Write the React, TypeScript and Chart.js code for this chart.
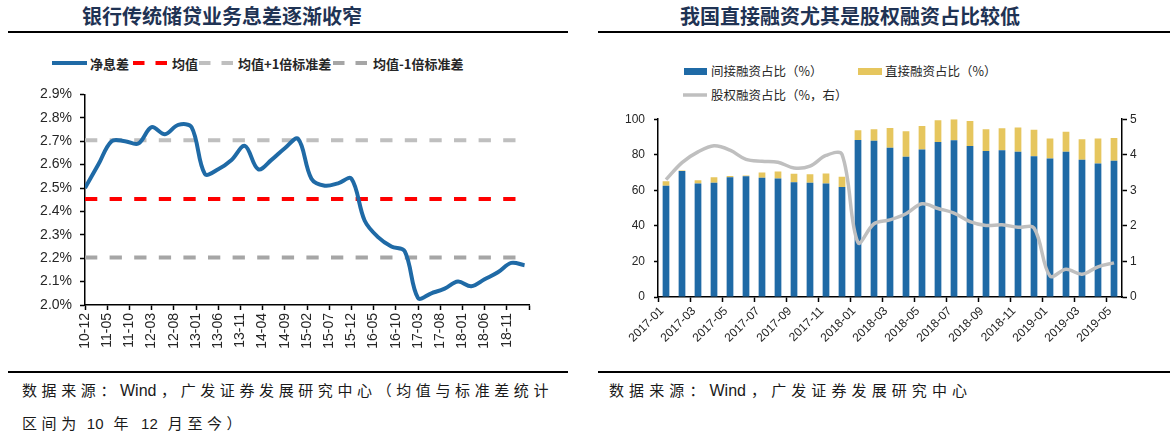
import React, { useEffect, useRef } from 'react';
import { Chart, registerables } from 'chart.js';

Chart.register(...registerables);

// ---------------- Left chart data: net interest margin ----------------
const nimPeriods = [
  '2010-12',
  '2011-03', '2011-06', '2011-09', '2011-12',
  '2012-03', '2012-06', '2012-09', '2012-12',
  '2013-03', '2013-06', '2013-09', '2013-12',
  '2014-03', '2014-06', '2014-09', '2014-12',
  '2015-03', '2015-06', '2015-09', '2015-12',
  '2016-03', '2016-06', '2016-09', '2016-12',
  '2017-03', '2017-06', '2017-09', '2017-12',
  '2018-03', '2018-06', '2018-09', '2018-12',
  '2019-03',
];
const nimValues = [
  2.50,
  2.60, 2.70, 2.70, 2.69,
  2.76, 2.73, 2.77, 2.76,
  2.56, 2.58, 2.62, 2.68,
  2.58, 2.62, 2.67, 2.71,
  2.54, 2.51, 2.52, 2.54,
  2.36, 2.29, 2.25, 2.23,
  2.03, 2.05, 2.07, 2.10,
  2.08, 2.11, 2.14, 2.18,
  2.17,
];
const nimMean = 2.453;
const nimPlusOneStd = 2.704;
const nimMinusOneStd = 2.203;
const nimAxisLabels = [
  '10-12', '11-05', '11-10', '12-03', '12-08', '13-01', '13-06', '13-11',
  '14-04', '14-09', '15-02', '15-07', '15-12', '16-05', '16-10', '17-03',
  '17-08', '18-01', '18-06', '18-11', '',
];
const nimAxisStartPeriod = '2010-12';
const nimAxisMonths = 100;
const nimAxisStepMonths = 5;
const nimYMin = 2.0;
const nimYMax = 2.9;
const nimYStep = 0.1;

// ---------------- Right chart data: financing structure ----------------
const finMonths = [
  '2017-01', '2017-02', '2017-03', '2017-04', '2017-05', '2017-06',
  '2017-07', '2017-08', '2017-09', '2017-10', '2017-11', '2017-12',
  '2018-01', '2018-02', '2018-03', '2018-04', '2018-05', '2018-06',
  '2018-07', '2018-08', '2018-09', '2018-10', '2018-11', '2018-12',
  '2019-01', '2019-02', '2019-03', '2019-04', '2019-05',
];
const indirectShare = [
  62.6, 70.8, 63.8, 64.2, 67.4, 67.9,
  67.0, 66.6, 64.5, 64.2, 63.8, 61.9,
  88.3, 87.9, 84.0, 78.9, 83.0, 87.2,
  88.1, 84.9, 82.1, 82.5, 81.7, 79.2,
  77.9, 81.7, 77.2, 75.1, 76.6,
];
const directShare = [
  2.5, 0.4, 1.9, 3.2, 0.7, 0.4,
  3.0, 4.0, 4.8, 4.9, 5.6, 5.8,
  5.5, 6.4, 11.1, 14.3, 13.2, 12.2,
  11.9, 14.1, 12.2, 12.4, 13.6, 14.8,
  11.3, 11.3, 11.5, 14.0, 12.8,
];
const equityShare = [
  3.30, 3.78, 4.08, 4.25, 4.13, 3.87,
  3.82, 3.79, 3.63, 3.68, 3.98, 4.01,
  1.53, 2.06, 2.17, 2.34, 2.62, 2.49,
  2.36, 2.12, 2.01, 2.03, 1.96, 1.94,
  0.59, 0.78, 0.64, 0.85, 0.96,
];

// ---------------- Styles ----------------
const BLUE = '#1f6aa6';
const YELLOW = '#e6c65e';
const RED = '#ff0000';
const GRAY_LIGHT = '#bfbfbf';
const GRAY_DARK = '#a6a6a6';
const LINE_GRAY = '#bfbfbf';
const TITLE_COLOR = '#1f3354';
const TEXT_COLOR = '#262626';
const NOTE_COLOR = '#1a1a1a';
const LATIN = '"Liberation Sans", Arial, "Noto Sans CJK SC", sans-serif';
const CJK = '"Noto Sans CJK SC", "Liberation Sans", sans-serif';

function monthIndex(period: string, base: string): number {
  const [y, m] = period.split('-').map(Number);
  const [by, bm] = base.split('-').map(Number);
  return (y - by) * 12 + (m - bm);
}

const axisGrid = (tickLength: number) => ({
  display: true,
  drawOnChartArea: false,
  drawTicks: true,
  tickLength,
  tickColor: '#000',
  tickWidth: 1.5,
});
const axisBorder = { display: true, color: '#000', width: 1.5 };

function NimChart() {
  const ref = useRef<HTMLCanvasElement | null>(null);
  useEffect(() => {
    if (!ref.current) return;
    const xs = nimPeriods.map((p) => monthIndex(p, nimAxisStartPeriod));
    const x0 = xs[0];
    const x1 = xs[xs.length - 1];
    const flat = (v: number) => [{ x: x0, y: v }, { x: x1, y: v }];
    const chart = new Chart(ref.current, {
      type: 'line',
      data: {
        datasets: [
          {
            label: '净息差',
            data: nimValues.map((v, i) => ({ x: xs[i], y: v })),
            borderColor: BLUE,
            borderWidth: 4,
            tension: 0.35,
            pointRadius: 0,
            fill: false,
          },
          {
            label: '均值',
            data: flat(nimMean),
            borderColor: RED,
            borderWidth: 4,
            borderDash: [12.3, 12.3],
            pointRadius: 0,
          },
          {
            label: '均值+1倍标准差',
            data: flat(nimPlusOneStd),
            borderColor: GRAY_LIGHT,
            borderWidth: 4,
            borderDash: [12.3, 12.3],
            pointRadius: 0,
          },
          {
            label: '均值-1倍标准差',
            data: flat(nimMinusOneStd),
            borderColor: GRAY_DARK,
            borderWidth: 4,
            borderDash: [12.3, 12.3],
            pointRadius: 0,
          },
        ],
      },
      options: {
        animation: false,
        responsive: false,
        maintainAspectRatio: false,
        layout: { padding: { top: 8, right: 31, left: 0, bottom: 0 } },
        plugins: { legend: { display: false }, tooltip: { enabled: false } },
        scales: {
          x: {
            type: 'linear',
            min: 0,
            max: nimAxisMonths,
            grid: axisGrid(5),
            border: axisBorder,
            ticks: {
              stepSize: nimAxisStepMonths,
              autoSkip: false,
              minRotation: 90,
              maxRotation: 90,
              padding: 3,
              color: TEXT_COLOR,
              font: { family: LATIN, size: 14 },
              callback: (v: any) => nimAxisLabels[Math.round(Number(v) / nimAxisStepMonths)] ?? '',
            },
            afterFit: (s: any) => { s.height = 60; },
          },
          y: {
            min: nimYMin,
            max: nimYMax,
            grid: axisGrid(5),
            border: axisBorder,
            ticks: {
              stepSize: nimYStep,
              padding: 8,
              color: TEXT_COLOR,
              font: { family: LATIN, size: 14 },
              callback: (v: any) => Number(v).toFixed(1) + '%',
            },
            afterFit: (s: any) => { s.width = 85; },
          },
        },
      } as any,
    });
    return () => chart.destroy();
  }, []);
  return (
    <canvas
      ref={ref}
      width={560}
      height={287}
      style={{ position: 'absolute', left: 0, top: 78, width: 560, height: 287, display: 'block' }}
    />
  );
}

function FinChart() {
  const ref = useRef<HTMLCanvasElement | null>(null);
  useEffect(() => {
    if (!ref.current) return;
    const chart = new Chart(ref.current, {
      type: 'bar',
      data: {
        labels: finMonths,
        datasets: [
          {
            type: 'line',
            label: '股权融资占比（%，右）',
            data: equityShare,
            yAxisID: 'y1',
            borderColor: LINE_GRAY,
            borderWidth: 3.5,
            tension: 0.35,
            pointRadius: 0,
            order: 1,
          },
          {
            type: 'bar',
            label: '间接融资占比（%）',
            data: indirectShare,
            yAxisID: 'y',
            backgroundColor: BLUE,
            stack: 's',
            order: 2,
            categoryPercentage: 1,
            barPercentage: 0.42,
          },
          {
            type: 'bar',
            label: '直接融资占比（%）',
            data: directShare,
            yAxisID: 'y',
            backgroundColor: YELLOW,
            stack: 's',
            order: 3,
            categoryPercentage: 1,
            barPercentage: 0.42,
          },
        ],
      },
      options: {
        animation: false,
        responsive: false,
        maintainAspectRatio: false,
        layout: { padding: { top: 10, right: 0, left: 0, bottom: 0 } },
        plugins: { legend: { display: false }, tooltip: { enabled: false } },
        scales: {
          x: {
            stacked: true,
            offset: true,
            grid: {
              display: true,
              offset: true,
              drawOnChartArea: false,
              drawTicks: true,
              tickLength: 5,
              tickWidth: 1.5,
              tickColor: (ctx: any) => (ctx.index % 2 === 0 ? '#000' : 'rgba(0,0,0,0)'),
            },
            border: axisBorder,
            ticks: {
              autoSkip: false,
              minRotation: 45,
              maxRotation: 45,
              labelOffset: -4,
              padding: 2,
              color: TEXT_COLOR,
              font: { family: LATIN, size: 12 },
              callback: (_v: any, i: number) => (i % 2 === 0 ? finMonths[i] : ''),
            },
            afterFit: (s: any) => { s.height = 63; },
          },
          y: {
            stacked: true,
            position: 'left',
            min: 0,
            max: 100,
            grid: axisGrid(4),
            border: axisBorder,
            ticks: {
              stepSize: 20,
              padding: 9,
              color: TEXT_COLOR,
              font: { family: LATIN, size: 12 },
            },
            afterFit: (s: any) => { s.width = 60; },
          },
          y1: {
            position: 'right',
            min: 0,
            max: 5,
            grid: axisGrid(5),
            border: axisBorder,
            ticks: {
              stepSize: 1,
              padding: 3,
              color: TEXT_COLOR,
              font: { family: LATIN, size: 12 },
            },
            afterFit: (s: any) => { s.width = 48; },
          },
        },
      } as any,
    });
    return () => chart.destroy();
  }, []);
  return (
    <canvas
      ref={ref}
      width={572}
      height={257}
      style={{ position: 'absolute', left: 598, top: 103, width: 572, height: 257, display: 'block' }}
    />
  );
}

function Txt(props: {
  x: number; cy: number; size: number; bold?: boolean; color?: string;
  family?: string; spacing?: number; children: React.ReactNode;
}) {
  const lh = Math.round(props.size * 1.6);
  return (
    <div
      style={{
        position: 'absolute',
        left: props.x,
        top: props.cy - lh / 2,
        height: lh,
        lineHeight: lh + 'px',
        fontSize: props.size,
        fontWeight: props.bold ? 700 : 400,
        color: props.color ?? TEXT_COLOR,
        fontFamily: props.family ?? CJK,
        letterSpacing: props.spacing ?? 0,
        whiteSpace: 'nowrap',
      }}
    >
      {props.children}
    </div>
  );
}

function Latin(props: { children: React.ReactNode; ml?: number; mr?: number; size?: number }) {
  return (
    <span
      style={{
        letterSpacing: 0,
        marginLeft: props.ml ?? 0,
        marginRight: props.mr ?? 0,
        fontSize: props.size ?? 15,
        fontFamily: LATIN,
      }}
    >
      {props.children}
    </span>
  );
}

function Title(props: { cx: number; text: string }) {
  return (
    <div
      style={{
        position: 'absolute',
        left: props.cx - 300,
        width: 600,
        top: 0,
        height: 32,
        lineHeight: '32px',
        textAlign: 'center',
        fontFamily: CJK,
        fontWeight: 700,
        fontSize: 20,
        color: TITLE_COLOR,
        whiteSpace: 'nowrap',
      }}
    >
      {props.text}
    </div>
  );
}

function Rule(props: { x1: number; x2: number; y: number; h: number }) {
  return (
    <div
      style={{
        position: 'absolute',
        left: props.x1,
        top: props.y,
        width: props.x2 - props.x1,
        height: props.h,
        background: '#000',
      }}
    />
  );
}

function LineSample(props: { x: number; cy: number; w: number; color: string; dash?: string; th: number }) {
  return (
    <svg
      width={props.w}
      height={10}
      style={{ position: 'absolute', left: props.x, top: props.cy - 5 }}
    >
      <line
        x1={0}
        y1={5}
        x2={props.w}
        y2={5}
        stroke={props.color}
        strokeWidth={props.th}
        strokeDasharray={props.dash}
      />
    </svg>
  );
}

function Box(props: { x: number; cy: number; w: number; h: number; color: string }) {
  return (
    <div
      style={{
        position: 'absolute',
        left: props.x,
        top: props.cy - props.h / 2,
        width: props.w,
        height: props.h,
        background: props.color,
      }}
    />
  );
}

export default function App() {
  return (
    <div
      style={{
        position: 'fixed',
        left: 0,
        top: 0,
        width: 1170,
        height: 437,
        background: '#fff',
        overflow: 'hidden',
      }}
    >
      <Title cx={222} text="银行传统储贷业务息差逐渐收窄" />
      <Title cx={850} text="我国直接融资尤其是股权融资占比较低" />
      <Rule x1={8} x2={568} y={31} h={2} />
      <Rule x1={598} x2={1170} y={31} h={2} />

      {/* left legend */}
      <LineSample x={52} cy={63} w={35} color={BLUE} th={4} />
      <Txt x={90} cy={63} size={13} bold>净息差</Txt>
      <LineSample x={133} cy={63} w={34} color={RED} th={4} dash="11.5 11" />
      <Txt x={172} cy={63} size={13} bold>均值</Txt>
      <LineSample x={199} cy={63} w={34} color={GRAY_LIGHT} th={4} dash="11.5 11" />
      <Txt x={238} cy={63} size={13} bold>均值+1倍标准差</Txt>
      <LineSample x={333} cy={63} w={34} color={GRAY_DARK} th={4} dash="11.5 11" />
      <Txt x={373} cy={63} size={13} bold>均值-1倍标准差</Txt>

      {/* right legend */}
      <Box x={684} cy={71} w={23} h={7} color={BLUE} />
      <Txt x={711} cy={71} size={12.5}>间接融资占比（%）</Txt>
      <Box x={858} cy={71} w={24} h={7} color={YELLOW} />
      <Txt x={885} cy={71} size={12.5}>直接融资占比（%）</Txt>
      <LineSample x={683} cy={95} w={24} color={LINE_GRAY} th={3.5} />
      <Txt x={711} cy={95} size={12.5}>股权融资占比（%，右）</Txt>

      <NimChart />
      <FinChart />

      <Rule x1={8} x2={568} y={371} h={2} />
      <Rule x1={598} x2={1170} y={371} h={2} />
      <Txt x={22} cy={390} size={15} spacing={4.6} color={NOTE_COLOR} family={CJK}>
        数据来源：<Latin size={16} mr={4.6}>Wind</Latin>，广发证券发展研究中心（均值与标准差统计
      </Txt>
      <Txt x={22} cy={423} size={15} spacing={4.6} color={NOTE_COLOR} family={CJK}>
        区间为<Latin ml={6} mr={10}>10</Latin>年<Latin ml={8} mr={10}>12</Latin>月至今）
      </Txt>
      <Txt x={609} cy={390} size={15} spacing={5.1} color={NOTE_COLOR} family={CJK}>
        数据来源：<Latin size={16} mr={5.1}>Wind</Latin>，广发证券发展研究中心
      </Txt>
    </div>
  );
}
